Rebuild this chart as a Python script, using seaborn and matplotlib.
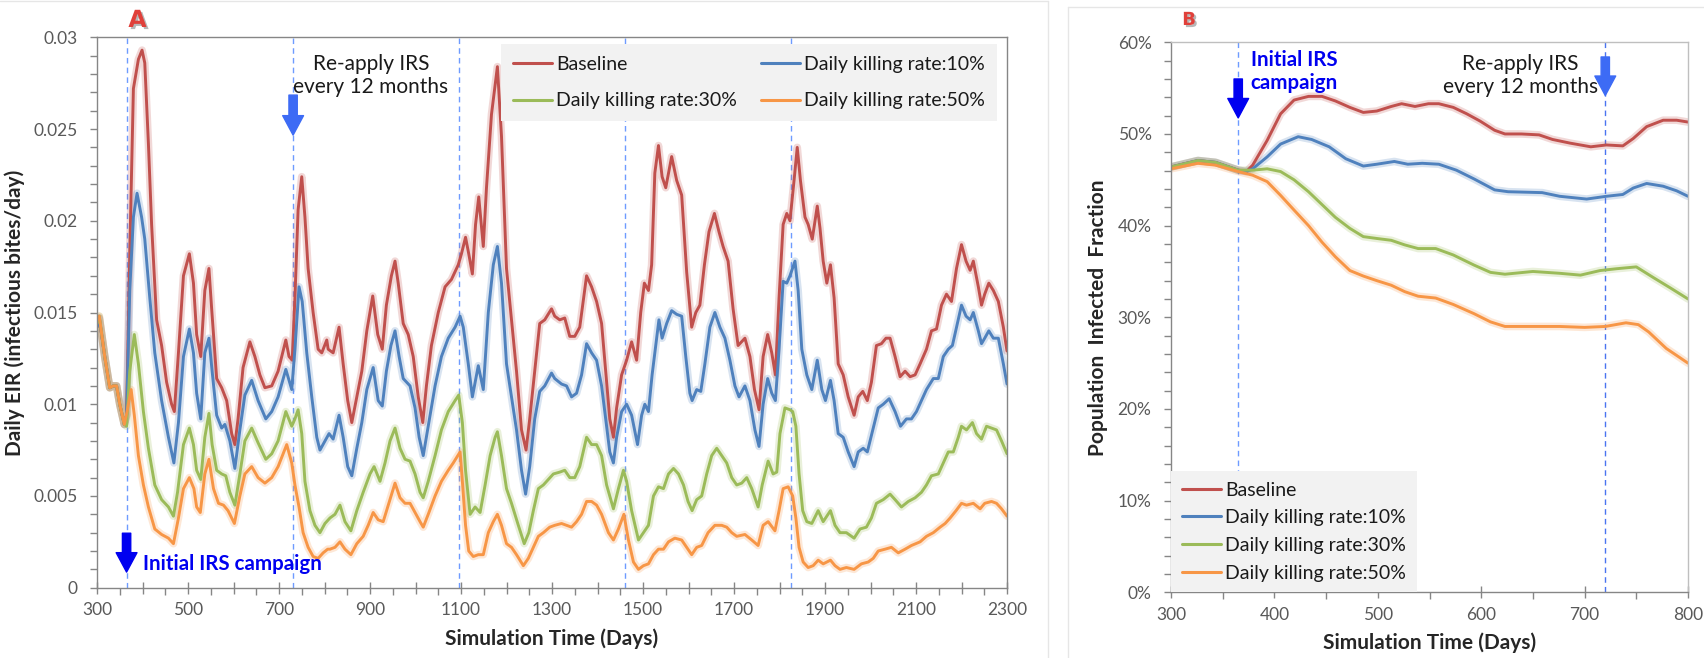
import numpy as np
import pandas as pd
import matplotlib
matplotlib.use("Agg")
import matplotlib.pyplot as plt
import matplotlib.patheffects as pe
from matplotlib.lines import Line2D
from matplotlib.ticker import MultipleLocator, FuncFormatter
import seaborn as sns

# ---------------------------------------------------------------- data
scenarios = ["Baseline", "Daily killing rate:10%",
             "Daily killing rate:30%", "Daily killing rate:50%"]
palette = ["#C0504D", "#4F81BD", "#9BBB59", "#F79646"]

# Panel A: daily EIR, (day, EIR in 1e-3 infectious bites/day)
eir_baseline = [
    (300, 14.2), (305, 14.7), (317, 12.6), (328, 10.9), (336, 11.0), (343, 11.0), (350, 10.0),
    (360, 8.9), (365, 9.4), (372, 18.2), (380, 27.2), (391, 28.8), (399, 29.3), (405, 28.6),
    (413, 24.2), (420, 19.8), (431, 14.6), (442, 13.2), (453, 11.2), (464, 10.0), (470, 9.6),
    (479, 12.8), (490, 17.0), (503, 18.2), (512, 16.6), (519, 13.8), (528, 12.6), (537, 16.2),
    (546, 17.4), (552, 15.2), (563, 11.4), (574, 10.9), (585, 10.2), (596, 8.4), (603, 7.8),
    (610, 9.2), (621, 12.0), (636, 13.4), (647, 12.6), (658, 11.6), (669, 10.9), (684, 11.0),
    (698, 11.8), (715, 13.5), (722, 12.6), (729, 12.4), (735, 15.8), (742, 20.6), (750, 22.4),
    (757, 20.2), (764, 17.4), (775, 15.0), (786, 13.0), (794, 12.8), (805, 13.5), (808, 13.0),
    (819, 12.8), (832, 14.2), (841, 12.2), (851, 10.2), (860, 9.0), (871, 10.4), (882, 11.8),
    (893, 14.0), (906, 15.9), (917, 13.8), (927, 13.0), (936, 15.4), (947, 17.0), (955, 17.8),
    (962, 16.6), (973, 14.4), (984, 13.8), (995, 12.6), (1006, 10.4), (1016, 9.0), (1024, 11.0),
    (1035, 13.2), (1050, 15.0), (1065, 16.4), (1079, 16.8), (1094, 17.6), (1101, 18.2),
    (1110, 19.1), (1117, 18.2), (1125, 17.1), (1132, 19.8), (1139, 21.3), (1149, 18.6),
    (1156, 21.8), (1167, 25.8), (1180, 28.4), (1189, 24.6), (1200, 17.4), (1211, 14.6),
    (1222, 11.8), (1233, 8.6), (1243, 7.5), (1251, 9.2), (1262, 11.8), (1273, 14.4),
    (1284, 14.6), (1299, 15.2), (1306, 14.8), (1317, 14.6), (1328, 14.7), (1339, 13.7),
    (1350, 13.7), (1361, 14.2), (1376, 17.0), (1387, 16.4), (1398, 15.6), (1409, 14.4),
    (1420, 11.2), (1427, 9.2), (1435, 8.2), (1442, 9.8), (1453, 11.6), (1464, 12.4),
    (1475, 13.4), (1486, 12.4), (1495, 15.0), (1503, 16.6), (1512, 16.2), (1519, 17.6),
    (1526, 22.6), (1534, 24.1), (1542, 22.4), (1550, 21.8), (1563, 23.5), (1574, 22.2),
    (1585, 21.4), (1596, 17.2), (1607, 14.2), (1616, 15.0), (1625, 15.4), (1635, 17.6),
    (1645, 19.4), (1657, 20.4), (1667, 19.4), (1676, 18.6), (1687, 17.8), (1698, 15.2),
    (1709, 13.2), (1724, 13.6), (1735, 12.6), (1745, 10.8), (1755, 9.7), (1764, 12.6),
    (1774, 13.8), (1783, 12.8), (1791, 11.6), (1799, 15.8), (1808, 19.8), (1816, 20.4),
    (1823, 20.0), (1832, 22.2), (1839, 24.0), (1846, 22.2), (1856, 20.2), (1863, 19.8),
    (1872, 19.0), (1883, 20.8), (1889, 19.6), (1896, 17.8), (1904, 16.6), (1912, 17.6),
    (1920, 15.8), (1929, 12.2), (1940, 11.6), (1951, 10.4), (1964, 9.4), (1973, 10.4),
    (1983, 10.7), (1993, 10.2), (2002, 11.2), (2013, 13.2), (2024, 13.3), (2034, 13.6),
    (2043, 13.6), (2054, 12.6), (2065, 11.5), (2076, 11.8), (2087, 11.5), (2098, 11.6),
    (2109, 12.2), (2123, 13.0), (2134, 14.0), (2145, 14.1), (2156, 15.4), (2167, 16.0),
    (2178, 15.6), (2189, 17.4), (2200, 18.7), (2210, 17.8), (2219, 17.3), (2226, 17.8),
    (2237, 16.4), (2244, 15.4), (2251, 16.0), (2260, 16.6), (2270, 16.2), (2281, 15.6),
    (2292, 14.2), (2300, 12.9),
]
eir_kill10 = [
    (300, 14.2), (305, 14.7), (317, 12.6), (328, 10.9), (336, 11.0), (343, 11.0), (350, 10.0),
    (360, 8.9), (365, 9.4), (372, 16.2), (380, 20.2), (388, 21.5), (398, 20.2), (405, 19.0),
    (416, 15.8), (427, 12.8), (442, 10.2), (457, 8.2), (469, 6.8), (479, 9.0), (490, 12.6),
    (503, 14.1), (512, 12.8), (519, 10.6), (528, 9.2), (537, 12.8), (546, 13.6), (553, 11.8),
    (563, 9.4), (574, 8.7), (581, 8.9), (592, 8.0), (603, 6.5), (614, 8.6), (625, 10.5),
    (640, 11.3), (654, 10.2), (671, 9.2), (684, 9.6), (698, 10.4), (715, 11.9), (728, 10.8),
    (735, 13.0), (744, 16.4), (751, 15.6), (761, 12.8), (772, 10.4), (783, 8.2), (790, 7.5),
    (801, 8.0), (810, 8.4), (819, 8.1), (832, 9.4), (841, 8.2), (851, 6.6), (860, 6.1),
    (871, 7.6), (882, 9.0), (893, 10.8), (907, 12.0), (918, 10.2), (927, 9.9), (936, 11.8),
    (946, 13.2), (955, 14.0), (964, 12.6), (973, 11.4), (988, 11.0), (999, 9.8), (1008, 8.2),
    (1017, 7.2), (1028, 8.8), (1043, 11.0), (1057, 12.6), (1072, 13.6), (1087, 14.2),
    (1098, 14.8), (1105, 14.2), (1116, 12.2), (1125, 10.4), (1138, 12.1), (1149, 10.8),
    (1160, 15.0), (1171, 17.6), (1180, 18.6), (1189, 16.6), (1200, 12.2), (1211, 10.4),
    (1222, 8.6), (1233, 6.4), (1242, 5.1), (1251, 6.6), (1262, 9.2), (1273, 10.7),
    (1284, 11.0), (1299, 11.7), (1306, 11.4), (1321, 11.1), (1332, 11.0), (1343, 10.4),
    (1354, 10.6), (1365, 11.6), (1376, 13.3), (1387, 12.8), (1398, 12.4), (1409, 11.0),
    (1420, 8.8), (1427, 7.4), (1435, 6.8), (1442, 8.2), (1453, 9.6), (1464, 10.0),
    (1475, 9.4), (1488, 7.8), (1497, 9.4), (1504, 10.0), (1512, 9.6), (1520, 11.6),
    (1530, 13.6), (1535, 14.6), (1542, 13.6), (1552, 14.4), (1563, 15.1), (1574, 14.9),
    (1585, 14.8), (1594, 12.6), (1603, 10.6), (1608, 10.2), (1618, 10.8), (1627, 10.7),
    (1636, 12.2), (1647, 14.2), (1658, 15.0), (1669, 14.2), (1680, 13.6), (1691, 12.4),
    (1702, 11.0), (1711, 10.4), (1724, 11.0), (1735, 10.2), (1746, 8.6), (1755, 7.7),
    (1764, 10.0), (1774, 11.4), (1783, 10.6), (1791, 10.2), (1799, 13.0), (1808, 16.7),
    (1816, 16.6), (1823, 17.0), (1834, 17.8), (1841, 16.2), (1849, 13.0), (1860, 11.6),
    (1871, 10.8), (1883, 12.4), (1893, 10.8), (1901, 10.2), (1912, 11.3), (1920, 10.2),
    (1929, 8.4), (1940, 8.2), (1951, 7.4), (1964, 6.6), (1973, 7.4), (1984, 7.6),
    (1993, 7.4), (2005, 8.6), (2017, 9.8), (2028, 10.0), (2041, 10.3), (2054, 9.6),
    (2066, 8.8), (2079, 9.2), (2090, 9.2), (2101, 9.6), (2112, 10.2), (2123, 10.8),
    (2138, 11.4), (2149, 11.4), (2160, 12.6), (2171, 13.0), (2180, 13.2), (2189, 14.2),
    (2200, 15.4), (2210, 14.8), (2219, 14.6), (2226, 15.0), (2237, 14.0), (2244, 13.3),
    (2251, 13.6), (2260, 14.0), (2270, 13.6), (2281, 13.6), (2292, 12.2), (2300, 11.1),
]
eir_kill30 = [
    (300, 14.4), (305, 14.8), (317, 12.6), (328, 10.9), (336, 11.0), (343, 11.0), (350, 10.0),
    (360, 8.9), (365, 8.8), (372, 11.8), (382, 13.8), (391, 12.2), (402, 9.6), (413, 7.6),
    (427, 5.6), (442, 4.8), (457, 4.4), (468, 3.9), (477, 5.2), (490, 7.8), (503, 8.7),
    (512, 7.8), (519, 6.4), (528, 5.9), (537, 8.2), (546, 9.5), (553, 7.8), (563, 6.4),
    (574, 6.2), (583, 6.1), (592, 5.2), (603, 4.5), (614, 6.2), (625, 8.0), (640, 8.7),
    (654, 7.9), (671, 7.0), (684, 7.3), (698, 8.0), (715, 9.6), (728, 8.8), (735, 9.2),
    (742, 9.7), (750, 8.4), (757, 5.8), (768, 4.2), (779, 3.4), (790, 3.0), (801, 3.5),
    (812, 3.8), (823, 4.0), (834, 4.5), (845, 3.6), (858, 3.1), (871, 4.2), (885, 5.2),
    (900, 6.2), (909, 6.6), (922, 5.8), (933, 6.8), (944, 8.0), (955, 8.7), (966, 7.6),
    (977, 7.0), (988, 6.9), (999, 6.2), (1010, 5.2), (1017, 4.9), (1028, 5.8), (1043, 7.2),
    (1057, 8.6), (1072, 9.6), (1087, 10.2), (1095, 10.5), (1103, 9.0), (1110, 6.4),
    (1120, 4.0), (1131, 4.4), (1142, 4.1), (1153, 5.6), (1164, 7.2), (1175, 8.2),
    (1180, 8.5), (1189, 7.2), (1200, 5.4), (1211, 4.6), (1226, 3.4), (1239, 2.4),
    (1249, 3.0), (1259, 4.2), (1270, 5.4), (1281, 5.6), (1292, 5.9), (1303, 6.2),
    (1317, 6.3), (1328, 6.4), (1339, 6.0), (1350, 6.0), (1361, 6.6), (1376, 8.2),
    (1387, 7.8), (1398, 7.8), (1409, 7.2), (1420, 5.6), (1435, 4.3), (1446, 5.4),
    (1457, 6.4), (1464, 5.8), (1475, 4.2), (1490, 2.6), (1501, 3.0), (1512, 3.4),
    (1523, 5.0), (1534, 5.5), (1545, 5.4), (1556, 6.2), (1567, 6.5), (1578, 6.2),
    (1589, 5.6), (1599, 4.7), (1608, 4.2), (1618, 4.8), (1629, 5.0), (1640, 6.2),
    (1651, 7.2), (1662, 7.6), (1673, 7.2), (1684, 6.8), (1695, 6.0), (1706, 5.6),
    (1717, 5.7), (1728, 6.0), (1739, 5.4), (1753, 4.4), (1762, 5.6), (1775, 6.9),
    (1786, 6.2), (1794, 6.3), (1801, 8.4), (1812, 9.8), (1823, 9.7), (1829, 9.6),
    (1836, 8.8), (1843, 6.2), (1851, 4.2), (1860, 3.6), (1871, 3.5), (1885, 4.2),
    (1896, 3.6), (1912, 4.2), (1922, 3.4), (1933, 3.0), (1947, 3.0), (1964, 2.7),
    (1977, 3.2), (1991, 3.3), (2002, 3.8), (2013, 4.6), (2028, 4.8), (2043, 5.1),
    (2054, 4.8), (2068, 4.4), (2083, 4.7), (2098, 4.9), (2112, 5.2), (2123, 5.6),
    (2134, 6.1), (2149, 6.2), (2160, 6.8), (2171, 7.4), (2182, 7.4), (2193, 8.2),
    (2200, 8.8), (2211, 8.6), (2224, 9.0), (2233, 8.4), (2244, 8.1), (2255, 8.8),
    (2266, 8.7), (2277, 8.6), (2288, 8.0), (2300, 7.3),
]
eir_kill50 = [
    (300, 14.6), (305, 14.8), (317, 12.6), (328, 10.9), (336, 11.0), (343, 11.0), (350, 10.0),
    (360, 8.9), (366, 9.6), (375, 10.8), (382, 9.4), (391, 7.2), (402, 5.6), (413, 4.4),
    (427, 3.2), (442, 2.9), (457, 2.7), (468, 2.4), (479, 3.8), (490, 5.4), (503, 6.0),
    (513, 5.4), (519, 4.4), (527, 4.1), (537, 6.2), (546, 7.0), (556, 5.4), (567, 4.6),
    (578, 4.5), (588, 4.2), (602, 3.5), (614, 5.0), (625, 6.2), (640, 6.6), (654, 6.0),
    (669, 5.7), (684, 6.0), (698, 6.6), (717, 7.8), (728, 6.8), (735, 5.6), (744, 4.4),
    (753, 3.0), (764, 2.2), (775, 1.7), (786, 1.6), (797, 1.9), (807, 2.1), (812, 2.1),
    (823, 2.2), (834, 2.5), (845, 2.1), (858, 1.8), (871, 2.4), (885, 2.8), (896, 3.4),
    (907, 4.1), (918, 3.7), (929, 3.6), (944, 4.8), (955, 5.7), (966, 4.9), (977, 4.6),
    (988, 4.6), (999, 4.1), (1010, 3.6), (1017, 3.3), (1028, 4.0), (1043, 5.0), (1057, 5.8),
    (1072, 6.4), (1083, 6.8), (1093, 7.2), (1098, 7.4), (1103, 5.8), (1110, 3.4),
    (1117, 2.0), (1127, 1.7), (1138, 1.8), (1149, 1.8), (1160, 3.0), (1171, 3.6),
    (1180, 4.0), (1189, 3.4), (1200, 2.4), (1211, 2.2), (1222, 1.8), (1237, 1.2),
    (1248, 1.6), (1259, 2.2), (1270, 2.8), (1281, 3.0), (1295, 3.3), (1306, 3.4),
    (1321, 3.5), (1332, 3.4), (1343, 3.3), (1354, 3.6), (1365, 4.0), (1376, 4.7),
    (1387, 4.7), (1398, 4.5), (1409, 4.0), (1424, 3.0), (1435, 2.6), (1446, 3.2),
    (1458, 4.0), (1468, 2.6), (1479, 1.4), (1490, 1.0), (1501, 1.2), (1512, 1.3),
    (1523, 1.8), (1534, 2.1), (1545, 2.1), (1556, 2.5), (1570, 2.7), (1585, 2.6),
    (1596, 2.2), (1607, 1.8), (1618, 2.2), (1629, 2.3), (1643, 3.0), (1658, 3.4),
    (1673, 3.4), (1684, 3.3), (1695, 3.0), (1706, 2.8), (1724, 2.9), (1739, 2.6),
    (1753, 2.3), (1764, 3.4), (1775, 3.6), (1790, 3.1), (1799, 4.2), (1808, 5.4),
    (1819, 5.5), (1829, 5.0), (1836, 3.8), (1843, 2.2), (1852, 1.4), (1863, 1.1),
    (1874, 1.2), (1885, 1.5), (1896, 1.3), (1912, 1.5), (1922, 1.2), (1933, 1.0),
    (1947, 1.1), (1964, 1.0), (1980, 1.3), (1995, 1.4), (2006, 1.6), (2017, 2.0),
    (2032, 2.1), (2046, 2.2), (2061, 1.9), (2076, 2.1), (2090, 2.3), (2109, 2.5),
    (2123, 2.8), (2138, 3.0), (2153, 3.3), (2164, 3.5), (2175, 3.8), (2188, 4.2),
    (2200, 4.6), (2211, 4.5), (2226, 4.6), (2241, 4.3), (2251, 4.6), (2266, 4.7),
    (2277, 4.6), (2288, 4.3), (2300, 3.9),
]

# Panel B: population infected fraction, (day, percent)
pif_baseline = [
    (300, 46.4), (326, 47.1), (343, 46.9), (365, 46.05), (373, 45.9), (379, 46.6), (393, 49.3),
    (406, 52.2), (419, 53.7), (433, 54.1), (446, 54.1), (459, 53.6), (473, 52.9), (486, 52.35),
    (499, 52.5), (513, 53.0), (523, 53.3), (536, 53.0), (549, 53.3), (559, 53.3), (573, 52.9),
    (586, 52.2), (599, 51.4), (613, 50.4), (623, 50.0), (639, 50.0), (656, 49.9), (669, 49.4),
    (686, 49.0), (706, 48.6), (721, 48.8), (737, 48.7), (747, 49.5), (760, 50.8), (776, 51.5),
    (789, 51.5), (800, 51.3),
]
pif_kill10 = [
    (300, 46.4), (326, 47.1), (343, 46.9), (365, 46.05), (373, 45.9), (379, 46.2), (393, 47.5),
    (406, 48.9), (423, 49.7), (436, 49.4), (453, 48.6), (469, 47.3), (486, 46.5), (499, 46.7),
    (516, 47.0), (529, 46.7), (543, 46.8), (559, 46.7), (576, 46.05), (593, 45.1), (613, 43.9),
    (626, 43.7), (659, 43.6), (676, 43.2), (702, 42.9), (721, 43.2), (737, 43.4), (747, 44.1),
    (760, 44.6), (776, 44.3), (789, 43.8), (800, 43.2),
]
pif_kill30 = [
    (300, 46.4), (326, 47.1), (343, 46.9), (365, 46.05), (379, 46.05), (393, 46.2), (406, 45.9),
    (419, 45.0), (433, 43.7), (446, 42.3), (459, 40.9), (473, 39.7), (486, 38.8), (499, 38.6),
    (513, 38.4), (526, 37.9), (539, 37.5), (556, 37.5), (573, 36.8), (593, 35.7), (609, 34.9),
    (623, 34.7), (650, 35.0), (676, 34.8), (696, 34.6), (715, 35.1), (731, 35.3), (750, 35.5),
    (767, 34.3), (783, 33.2), (800, 32.0),
]
pif_kill50 = [
    (300, 46.2), (326, 46.8), (343, 46.6), (365, 45.9), (379, 45.5), (393, 44.8), (406, 43.3),
    (419, 41.7), (433, 40.0), (446, 38.2), (459, 36.6), (473, 35.1), (486, 34.5), (499, 34.0),
    (513, 33.5), (526, 32.8), (539, 32.3), (556, 32.1), (573, 31.4), (593, 30.4), (609, 29.5),
    (623, 29.0), (650, 29.0), (676, 29.0), (700, 28.9), (720, 29.0), (740, 29.4), (752, 29.2),
    (762, 28.4), (779, 26.6), (800, 25.0),
]

irs_days_a = [365, 730, 1095, 1460, 1825]
irs_days_b = [365, 720]


def long_frame(series, scale):
    parts = []
    for name, pts in zip(scenarios, series):
        arr = np.asarray(pts, dtype=float)
        parts.append(pd.DataFrame({"day": arr[:, 0], "value": arr[:, 1] * scale,
                                   "scenario": name}))
    return pd.concat(parts, ignore_index=True)


df_a = long_frame([eir_baseline, eir_kill10, eir_kill30, eir_kill50], 1e-3)
df_b = long_frame([pif_baseline, pif_kill10, pif_kill30, pif_kill50], 1.0)

# ---------------------------------------------------------------- style
sns.set_style("ticks")
plt.rcParams["font.family"] = ["Lato", "DejaVu Sans"]
TICK_COLOR = "#595959"
SPINE_COLOR = "#868686"
pal = dict(zip(scenarios, palette))

fig = plt.figure(figsize=(17.04, 6.58), dpi=100)
W, H = 1704, 658
axA = fig.add_axes([97 / W, (H - 587.7) / H, 910 / W, 550.4 / H])
axB = fig.add_axes([1171 / W, (H - 592.3) / H, 517 / W, 550 / H])

# faint panel frames
for xs, ys in [((0, 1048), (657, 657)), ((1048, 1048), (0, 657)),
               ((1068, 1068), (0, 651)), ((1068, 1704), (651, 651))]:
    fig.add_artist(Line2D([x / W for x in xs], [y / H for y in ys],
                          color="#E6E6E6", lw=1.0))


def draw_lines(ax, df):
    # soft band around each curve, then the curve itself
    sns.lineplot(data=df, x="day", y="value", hue="scenario", palette=pal,
                 estimator=None, sort=True, lw=5.5, alpha=0.22, legend=False, ax=ax)
    sns.lineplot(data=df, x="day", y="value", hue="scenario", palette=pal,
                 estimator=None, sort=True, lw=2.1, legend=False, ax=ax)


def style_axes(ax, top_right_color):
    for side in ["left", "bottom"]:
        ax.spines[side].set_color(SPINE_COLOR)
        ax.spines[side].set_linewidth(1.0)
    for side in ["top", "right"]:
        ax.spines[side].set_visible(True)
        ax.spines[side].set_color(top_right_color)
        ax.spines[side].set_linewidth(1.0)
    ax.tick_params(axis="x", which="major", direction="inout", length=9, width=1,
                   color=SPINE_COLOR, labelcolor=TICK_COLOR, labelsize=12.5, pad=6)
    ax.tick_params(axis="x", which="minor", direction="out", length=5, width=1,
                   color=SPINE_COLOR)
    ax.tick_params(axis="y", which="both", direction="out", length=5, width=1,
                   color=SPINE_COLOR, labelcolor=TICK_COLOR, labelsize=12.5, pad=9)
    ax.set_facecolor("white")


# ---------------------------------------------------------------- panel A
draw_lines(axA, df_a)
for d in irs_days_a:
    axA.axvline(d, color="#6E9BFF", lw=1.0, ls=(0, (4, 3)), zorder=0.5)
axA.set_xlim(300, 2300)
axA.set_ylim(0, 0.03)
axA.xaxis.set_major_locator(MultipleLocator(100))
axA.xaxis.set_minor_locator(MultipleLocator(50))
axA.xaxis.set_major_formatter(FuncFormatter(
    lambda v, p: f"{int(round(v))}" if int(round(v)) % 200 == 100 else ""))
axA.yaxis.set_major_locator(MultipleLocator(0.005))
axA.yaxis.set_minor_locator(MultipleLocator(0.001))
axA.yaxis.set_major_formatter(FuncFormatter(lambda v, p: "0" if v == 0 else f"{v:g}"))
style_axes(axA, SPINE_COLOR)
axA.set_xlabel("Simulation Time (Days)", fontsize=15, fontweight="bold", labelpad=7)
axA.set_ylabel("Daily EIR (infectious bites/day)", fontsize=15, fontweight="bold",
               labelpad=6)

handlesA = [Line2D([], [], color=pal[s], lw=2.2) for s in scenarios]
legA = axA.legend([handlesA[0], handlesA[2], handlesA[1], handlesA[3]],
                  [scenarios[0], scenarios[2], scenarios[1], scenarios[3]],
                  ncol=2, loc="upper right", bbox_to_anchor=(1 - 10 / 910, 1 - 7 / 550.4),
                  borderaxespad=0, frameon=True, fancybox=False, fontsize=14,
                  handlelength=2.0, handletextpad=0.25, columnspacing=1.2,
                  labelspacing=1.0, borderpad=0.6)
legA.get_frame().set_facecolor("#F2F2F2")
legA.get_frame().set_edgecolor("none")
legA.get_frame().set_alpha(1)
for t in legA.get_texts():
    t.set_color("#1A1A1A")

axA.text(902, 0.02792, "Re-apply IRS\nevery 12 months", ha="center", va="center",
         fontsize=15, color="#1A1A1A", linespacing=1.2)
axA.annotate("", xy=(731, 0.02467), xytext=(731, 0.02685),
             arrowprops=dict(arrowstyle="simple,head_length=1.4,head_width=1.5,tail_width=0.6",
                             color="#3D6BF5", shrinkA=0, shrinkB=0, mutation_scale=10))
axA.annotate("", xy=(365, 0.00085), xytext=(365, 0.00297),
             arrowprops=dict(arrowstyle="simple,head_length=1.4,head_width=1.5,tail_width=0.6",
                             color="#0000F0", shrinkA=0, shrinkB=0, mutation_scale=10))
axA.text(402, 0.00129, "Initial IRS campaign", ha="left", va="center", fontsize=14.8,
         fontweight="bold", color="#0000F0")

# ---------------------------------------------------------------- panel B
draw_lines(axB, df_b)
axB.axvline(irs_days_b[0], color="#6E9BFF", lw=1.0, ls=(0, (4, 3)), zorder=0.5)
axB.axvline(irs_days_b[1], color="#4A74F0", lw=1.0, ls=(0, (4, 3)), zorder=0.5)
axB.set_xlim(300, 800)
axB.set_ylim(0, 60)
axB.xaxis.set_major_locator(MultipleLocator(100))
axB.xaxis.set_minor_locator(MultipleLocator(50))
axB.yaxis.set_major_locator(MultipleLocator(10))
axB.yaxis.set_minor_locator(MultipleLocator(2))
axB.yaxis.set_major_formatter(FuncFormatter(lambda v, p: f"{int(round(v))}%"))
style_axes(axB, "#BFBFBF")
axB.set_xlabel("Simulation Time (Days)", fontsize=15, fontweight="bold", labelpad=7)
axB.set_ylabel("Population  Infected  Fraction", fontsize=15, fontweight="bold",
               labelpad=7)

handlesB = [Line2D([], [], color=pal[s], lw=2.2) for s in scenarios]
legB = axB.legend(handlesB, scenarios, loc="lower left", bbox_to_anchor=(0, 0),
                  borderaxespad=0, frameon=True, fancybox=False, fontsize=14,
                  handlelength=2.0, handletextpad=0.25, labelspacing=0.55,
                  borderpad=0.55)
legB.get_frame().set_facecolor("#F2F2F2")
legB.get_frame().set_edgecolor("none")
legB.get_frame().set_alpha(1)
for t in legB.get_texts():
    t.set_color("#1A1A1A")

axB.text(377, 56.8, "Initial IRS\ncampaign", ha="left", va="center", fontsize=14.8,
         fontweight="bold", color="#0000F0", linespacing=1.2)
axB.annotate("", xy=(365, 51.75), xytext=(365, 56.0),
             arrowprops=dict(arrowstyle="simple,head_length=1.4,head_width=1.5,tail_width=0.6",
                             color="#0000F0", shrinkA=0, shrinkB=0, mutation_scale=10))
axB.text(638, 56.4, "Re-apply IRS\nevery 12 months", ha="center", va="center",
         fontsize=15, color="#1A1A1A", linespacing=1.2)
axB.annotate("", xy=(720, 54.2), xytext=(720, 58.4),
             arrowprops=dict(arrowstyle="simple,head_length=1.4,head_width=1.5,tail_width=0.6",
                             color="#3D6BF5", shrinkA=0, shrinkB=0, mutation_scale=10))

# panel letters
shadow = [pe.withSimplePatchShadow(offset=(1.5, -1.5), shadow_rgbFace="#888888", alpha=0.6)]
fig.text(137.5 / W, 1 - 20 / H, "A", ha="center", va="center", fontsize=17,
         fontweight="bold", color="#E0403A", family="DejaVu Sans", path_effects=shadow)
fig.text(1189 / W, 1 - 20 / H, "B", ha="center", va="center", fontsize=13,
         fontweight="bold", color="#E0403A", family="DejaVu Sans", path_effects=shadow)

fig.savefig("out.png", dpi=100, facecolor="white")
